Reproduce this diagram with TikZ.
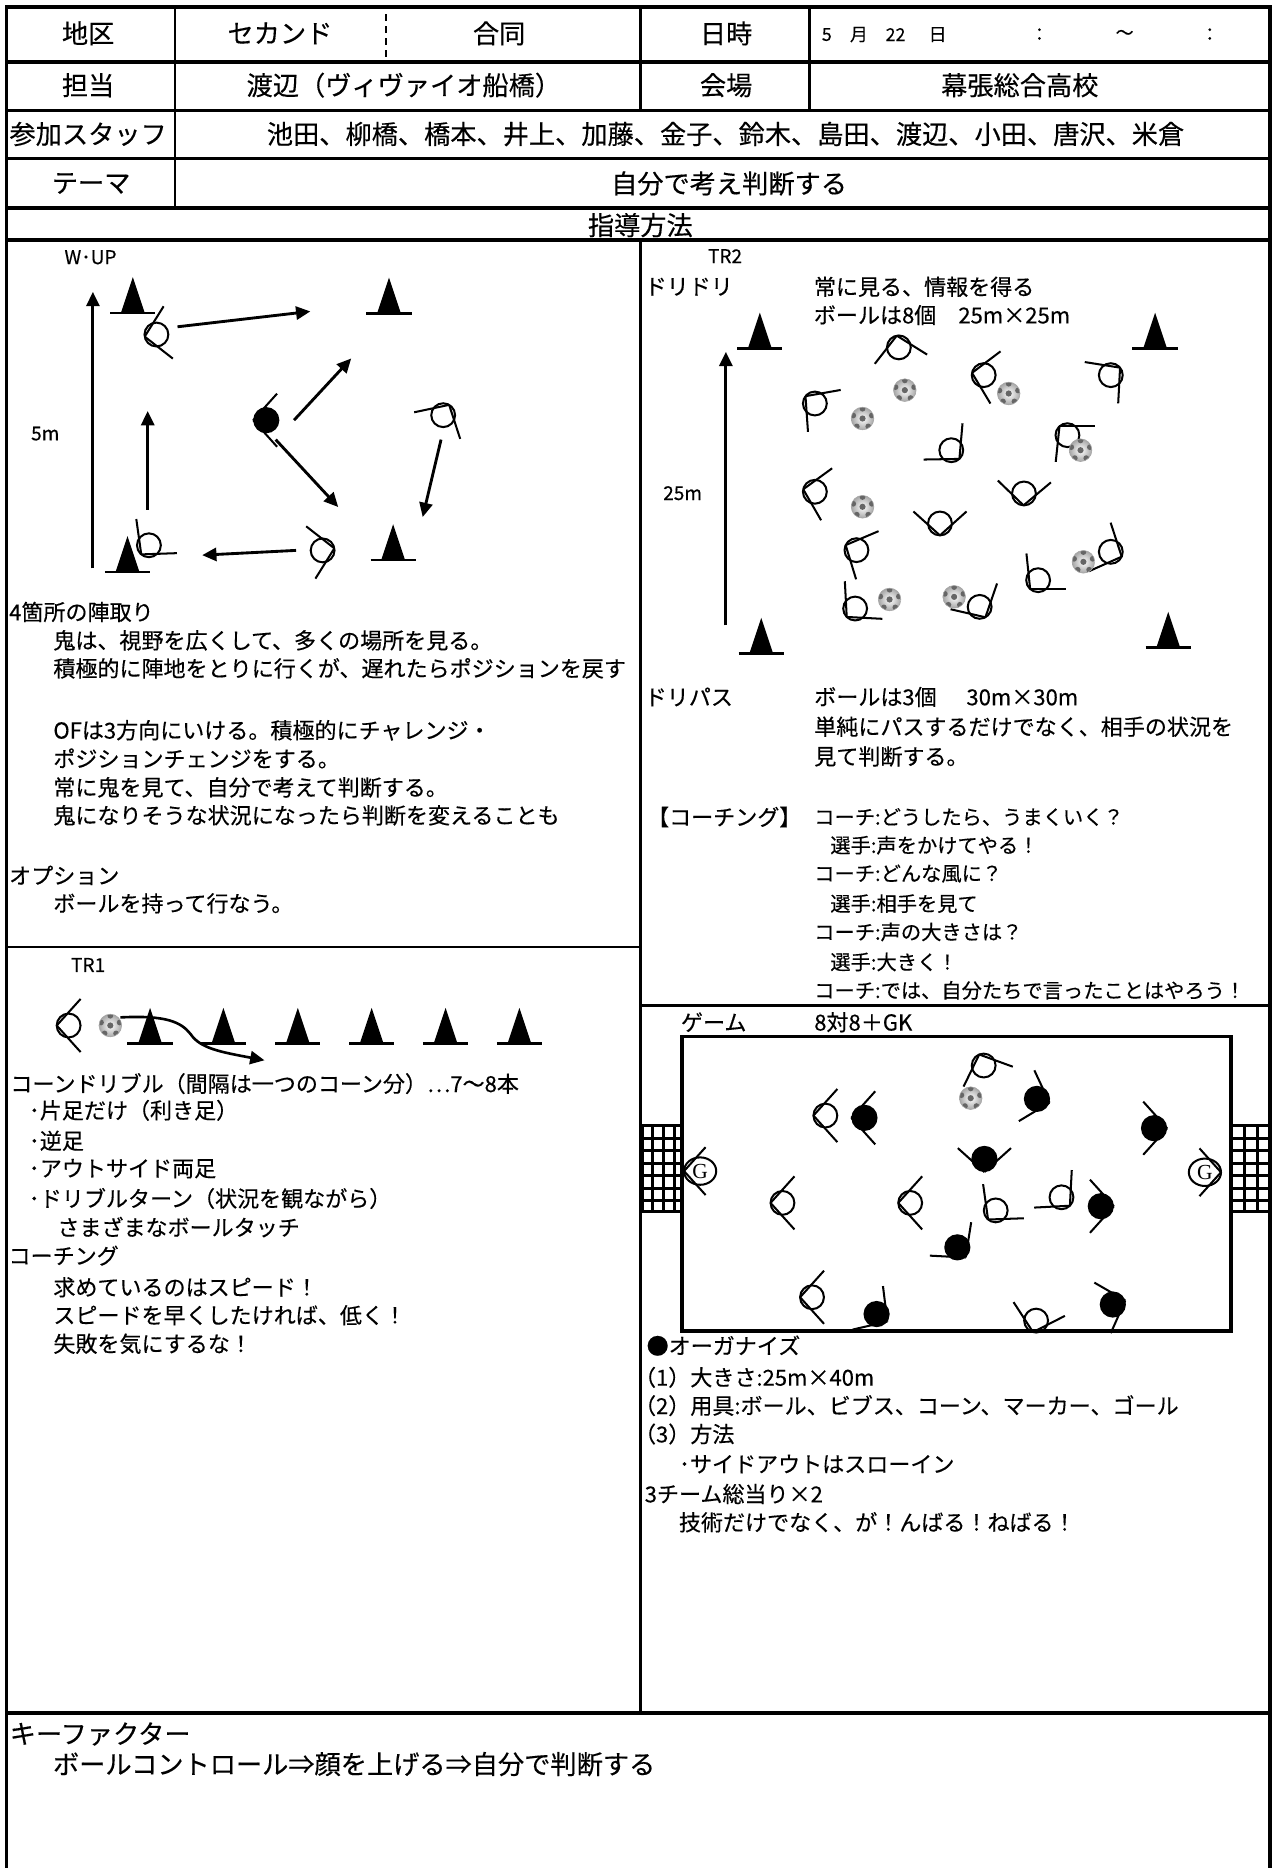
\documentclass[tikz,border=0pt]{standalone}
\usepackage{fontspec}
\setmainfont{Noto Sans CJK JP}[FakeBold=0.35]
\newfontfamily\gkfont{Liberation Serif}
\usetikzlibrary{arrows.meta}

\newcommand\hdfont{\fontsize{22}{26}\selectfont}
\newcommand\txtfont{\fontsize{18.5}{22}\selectfont}
\newcommand\talkfont{\fontsize{17}{21}\selectfont}
\newcommand\lblfont{\fontsize{16}{19}\selectfont}
\newcommand\datefont{\fontsize{15}{18}\selectfont}

\tikzset{
  tbl/.style={line width=2.8pt},
  sep/.style={line width=2.2pt},
  hd/.style={inner sep=0pt, font=\hdfont},
  txt/.style={anchor=west, inner sep=0pt, font=\txtfont},
  talk/.style={anchor=west, inner sep=0pt, font=\talkfont},
  keytxt/.style={anchor=west, inner sep=0pt, font=\hdfont},
  lbl/.style={inner sep=0pt, font=\lblfont},
  dt/.style={inner sep=0pt, font=\datefont},
  run/.style={line width=2.4pt, -{Triangle[length=12pt,width=11pt]}},
  plr/.style={line width=1.7pt},
  net/.style={line width=2.6pt},
  cone/.pic={
    \fill (-10,0) -- (0,-30) -- (10,0) -- cycle;
    \draw[line width=2pt] (-19,0) -- (19,0);
  },
  player/.pic={
    \draw[plr] (0,0) circle (10);
    \draw[plr] ({#1+180}:10) -- +({#1+48}:30);
    \draw[plr] ({#1+180}:10) -- +({#1-48}:30);
  },
  bplayer/.pic={
    \fill (0,0) circle (11);
    \draw[plr] ({#1+180}:11) -- +({#1+48}:30);
    \draw[plr] ({#1+180}:11) -- +({#1-48}:30);
  },
  keeper/.pic={
    \draw[plr] (0,0) ellipse (13.5 and 11.5);
    \node[inner sep=0pt, font=\gkfont\fontsize{18}{18}\selectfont] (-g) at (0,0) {G};
    \draw[plr] ({#1+180}:13.5) -- +({#1+48}:27);
    \draw[plr] ({#1+180}:13.5) -- +({#1-48}:27);
  },
  ball/.pic={
    \shade[inner color=white, outer color=black!35] (0,0) circle (9.5);
    \begin{scope}
      \clip (0,0) circle (9.5);
      \fill[black!60] (0,0) circle (2.6);
      \foreach \a in {-90,-18,54,126,198} \fill[black!60] (\a:8.2) circle (2.4);
    \end{scope}
    \draw[black!35, line width=0.5pt] (0,0) circle (9.5);
  },
}

\begin{document}
\begin{tikzpicture}[x=1pt, y=-1pt]
\useasboundingbox (0,0) rectangle (1069,1568);

% frame and rules
\draw[tbl] (5.5,1568) -- (5.5,6) -- (1066,6) -- (1066,1568);
\foreach \y in {52,92.5,133,174.5,201.5,1438}
  \draw[tbl] (5.5,\y) -- (1066,\y);
\draw[sep] (147,6) -- (147,174.5);
\draw[sep] (537.5,6) -- (537.5,92.5);
\draw[sep] (679.5,6) -- (679.5,92.5);
\draw[sep, dash pattern=on 6pt off 4pt] (324,12) -- (324,50);
\draw[sep] (537.5,201.5) -- (537.5,1438);
\draw[sep] (5.5,795) -- (537.5,795);
\draw[sep] (537.5,844) -- (1066,844);

% header
\node[hd] (area) at (74,28) {地区};
\node[hd] (second) at (235,28) {セカンド};
\node[hd] (joint) at (419,28) {合同};
\node[hd] (when) at (609.5,28) {日時};
\node[dt] (d1) at (694,29) {5};
\node[dt] (d2) at (721,29) {月};
\node[dt] (d3) at (751.7,29) {22};
\node[dt] (d4) at (787,29) {日};
\node[dt] (d5) at (872.5,29) {：};
\node[dt] (d6) at (944,29) {～};
\node[dt] (d7) at (1015.5,29) {：};
\node[hd] (charge) at (74,71.5) {担当};
\node[hd] (coach) at (339,71.5) {渡辺（ヴィヴァイオ船橋）};
\node[hd] (venue) at (609.5,71.5) {会場};
\node[hd] (school) at (856,71.5) {幕張総合高校};
\node[hd] (crew) at (74,112.5) {参加スタッフ};
\node[hd] (names) at (609,112.5) {池田、柳橋、橋本、井上、加藤、金子、鈴木、島田、渡辺、小田、唐沢、米倉};
\node[hd] (themel) at (76.5,154) {テーマ};
\node[hd] (theme) at (612,154) {自分で考え判断する};
\node[hd] (method) at (537.5,189) {指導方法};

% W-UP
\node[lbl] (wup) at (76,216) {W･UP};
\node[lbl] (five) at (38,364) {5m};
\foreach \x/\y in {111.5/262.6, 326.5/263, 107/480, 330/470}
  \pic at (\x,\y) {cone};
\foreach \x/\y/\a in {131.3/280.8/-10, 372/348.5/120, 270.8/462/170, 125/457.7/-50}
  \pic at (\x,\y) {player=\a};
\pic at (223.5,352.7) {bplayer=0};
\coordinate (r1a) at (149,274.3);   \coordinate (r1b) at (260.5,261.4);
\coordinate (r2a) at (246.8,352.7); \coordinate (r2b) at (294.8,300.9);
\coordinate (r3a) at (231.4,369);   \coordinate (r3b) at (283.9,425.6);
\coordinate (r4a) at (370.2,369);   \coordinate (r4b) at (354.8,434);
\coordinate (r5a) at (248.5,462);   \coordinate (r5b) at (169.7,466);
\coordinate (r6a) at (124,428);     \coordinate (r6b) at (124,345);
\coordinate (r7a) at (78,477);      \coordinate (r7b) at (78,245);
\foreach \i in {1,...,7}
  \draw[run] (r\i a) -- (r\i b);

\foreach \x/\y/\tx [count=\i] in {
  7.5/513.7/4箇所の陣取り,
  44.6/537.5/鬼は、視野を広くして、多くの場所を見る。,
  44.6/561/積極的に陣地をとりに行くが、遅れたらポジションを戻す,
  44.6/613/OFは3方向にいける。積極的にチャレンジ・,
  44.6/636.6/ポジションチェンジをする。,
  44.6/660.9/常に鬼を見て、自分で考えて判断する。,
  44.6/684.4/鬼になりそうな状況になったら判断を変えることも,
  7.5/734.8/オプション,
  44.6/758.3/ボールを持って行なう。}
  \node[txt] (wu\i) at (\x,\y) {\tx};

% TR1
\node[lbl] (tr1) at (74,810) {TR1};
\pic at (57.6,860.8) {player=0};
\foreach \x in {126,187.5,250,312,374,436}
  \pic at (\x,876) {cone};
\pic at (92.6,860.8) {ball};
\coordinate (drb) at (101,854);
\coordinate (dre) at (222,890);
\draw[run, line width=2.2pt] (drb) .. controls (140,852) and (152,858) .. (160,868)
  .. controls (168,880) and (185,883) .. (dre);

\foreach \x/\y/\tx [count=\i] in {
  8.6/909.6/コーンドリブル（間隔は一つのコーン分）…7～8本,
  24/932/･片足だけ（利き足）,
  24/957.6/･逆足,
  24/981/･アウトサイド両足,
  24/1006/･ドリブルターン（状況を観ながら）,
  48/1030/さまざまなボールタッチ,
  7/1054/コーチング,
  44.6/1080.5/求めているのはスピード！,
  44.6/1104/スピードを早くしたければ、低く！,
  44.6/1128/失敗を気にするな！}
  \node[txt] (t1\i) at (\x,\y) {\tx};

% TR2
\node[lbl] (tr2) at (608.6,215) {TR2};
\node[txt] (dd) at (541,240.7) {ドリドリ};
\node[txt] (dd1) at (683,240.7) {常に見る、情報を得る};
\node[txt] (dd2) at (683,264.5) {ボールは8個　25m×25m};
\node[lbl] (tf) at (573,414) {25m};
\foreach \x/\y in {637.8/292.5, 969.6/292.5, 639/548.6, 980.6/543.6}
  \pic at (\x,\y) {cone};
\coordinate (s2a) at (609.3,525);
\coordinate (s2b) at (609.3,295.3);
\draw[run] (s2a) -- (s2b);
\foreach \x/\y/\a in {754.5/291.6/80, 684/338.7/38, 825.7/314.9/11, 932.4/314.9/141,
    798.5/377.9/227, 896/365.3/48, 684/412.8/12, 859.5/414.2/-88, 789/439.4/-90,
    718.9/461.8/25, 932.4/463.2/204, 871.4/487/-48, 717.8/510.8/-45, 822.3/509.4/241}
  \pic at (\x,\y) {player=\a};
\foreach \x/\y in {759.5/327.5, 846.7/330.3, 724/351.3, 907/377.9, 724/425.4,
    909.4/471.6, 746.7/503.2, 800.9/501}
  \pic at (\x,\y) {ball};

\node[txt] (dp) at (541,585) {ドリパス};
\node[txt] (dp1) at (683.3,585) {ボールは3個\hspace{25pt}30m×30m};
\node[txt] (dp2) at (683.3,610) {単純にパスするだけでなく、相手の状況を};
\node[txt] (dp3) at (683.3,635) {見て判断する。};
\node[txt] (cg) at (543,685.8) {【コーチング】};
\foreach \x/\y/\tx [count=\i] in {
  683.3/685.8/コーチ:どうしたら、うまくいく？,
  696.8/709.5/選手:声をかけてやる！,
  683.3/733.3/コーチ:どんな風に？,
  696.8/758.5/選手:相手を見て,
  683.3/782.3/コーチ:声の大きさは？,
  696.8/807.5/選手:大きく！,
  683.3/831.3/コーチ:では、自分たちで言ったことはやろう！}
  \node[talk] (cg\i) at (\x,\y) {\tx};

% game
\node[txt] (gm) at (571.4,858) {ゲーム};
\node[txt] (gm1) at (683.3,858) {8対8＋GK};
\foreach \x in {539,548,557,566,1044.5,1055.5}
  \draw[net] (\x,944) -- (\x,1018);
\foreach \y in {945,955.5,966,976.5,987,997.5,1008,1017} {
  \draw[net] (537.5,\y) -- (572.4,\y);
  \draw[net] (1033,\y) -- (1066,\y);
}
\draw[line width=3pt] (572.4,870) rectangle (1033.1,1117);
\foreach \x/\y/\a in {825.7/894.4/68, 692.8/936.4/0, 656.8/1009.7/0, 764/1009.7/0,
    835.8/1016/-50, 891/1005/225, 681.6/1088.9/0, 869.7/1108.5/-75}
  \pic at (\x,\y) {player=\a};
\foreach \x/\y/\a in {870.4/922.4/197, 725.6/938.3/0, 968.7/947/180, 826.3/972.8/-90,
    924/1012.5/180, 803.6/1047/231, 735.8/1103/215, 934.1/1095/162}
  \pic at (\x,\y) {bplayer=\a};
\pic (gkl) at (587.7,983) {keeper=0};
\pic (gkr) at (1011.4,984) {keeper=180};
\pic at (814.8,921.8) {ball};

\foreach \x/\y/\tx [count=\i] in {
  542.6/1129.5/●オーガナイズ,
  532/1156.1/（1）大きさ:25m×40m,
  532/1179.9/（2）用具:ボール、ビブス、コーン、マーカー、ゴール,
  532/1203.7/（3）方法,
  569.7/1228.9/･サイドアウトはスローイン,
  541/1254/3チーム総当り×2,
  569.7/1277.8/技術だけでなく、が！んばる！ねばる！}
  \node[txt] (og\i) at (\x,\y) {\tx};

% key factor
\node[keytxt] (kf) at (8,1455.5) {キーファクター};
\node[keytxt] (kf1) at (44.3,1480.8) {ボールコントロール⇒顔を上げる⇒自分で判断する};
\end{tikzpicture}
\end{document}
